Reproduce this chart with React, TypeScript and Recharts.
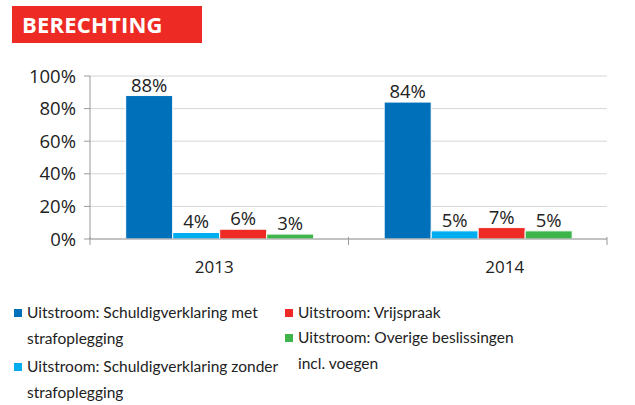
import React from 'react';
import { BarChart, Bar, XAxis, YAxis, CartesianGrid, LabelList } from 'recharts';

// --- data ---
const years = ['2013', '2014'];
const metStraf = [0.88, 0.84];
const zonderStraf = [0.04, 0.05];
const vrijspraak = [0.06, 0.07];
const overige = [0.03, 0.05];
const yTicks = [0, 0.2, 0.4, 0.6, 0.8, 1];

const SERIES = [
  { key: 'met', name: 'Uitstroom: Schuldigverklaring met strafoplegging', color: '#0070BA' },
  { key: 'zonder', name: 'Uitstroom: Schuldigverklaring zonder strafoplegging', color: '#00AEEF' },
  { key: 'vrij', name: 'Uitstroom: Vrijspraak', color: '#EE2A24' },
  { key: 'overig', name: 'Uitstroom: Overige beslissingen incl. voegen', color: '#3DB54A' },
];

const data = years.map((year, i) => ({
  year,
  met: metStraf[i],
  zonder: zonderStraf[i],
  vrij: vrijspraak[i],
  overig: overige[i],
}));

const NUM_FONT = '"Open Sans", sans-serif';
const TEXT_FONT = 'Lato, sans-serif';
const AXIS_COLOR = '#9a9a9a';
const LABEL_SHIFT = [-5, 27];

const pct = (v: number) => `${Math.round(v * 100)}%`;

// category labels plus the boundary tick marks
const CategoryTick = (props: any) => {
  const { x, y, payload, index } = props;
  const half = payload && payload.offset ? payload.offset : 129;
  return (
    <g>
      <line x1={x - half} x2={x - half} y1={y - 2} y2={y + 6} stroke={AXIS_COLOR} />
      {index === years.length - 1 && (
        <line x1={x + half} x2={x + half} y1={y - 2} y2={y + 6} stroke={AXIS_COLOR} />
      )}
      <text
        x={x + (LABEL_SHIFT[index] || 0)}
        y={y + 34}
        textAnchor="middle"
        fill="#222"
        fontSize={17}
        fontFamily={NUM_FONT}
      >
        {payload.value}
      </text>
    </g>
  );
};

const LegendItem: React.FC<{ color: string; lines: string[]; left: number; top: number }> = ({ color, lines, left, top }) => (
  <div style={{ position: 'absolute', left, top }}>
    <div style={{ position: 'absolute', left: 0, top: 9, width: 8, height: 8, background: color }} />
    <div style={{ position: 'absolute', left: 13, top: 0, whiteSpace: 'nowrap', fontFamily: TEXT_FONT, fontSize: 15.5, lineHeight: '25.5px', color: '#222' }}>
      {lines.map((l) => (
        <div key={l}>{l}</div>
      ))}
    </div>
  </div>
);

export default function App() {
  return (
    <div style={{ position: 'absolute', left: 0, top: 0, width: 635, height: 405, background: '#fff', overflow: 'hidden' }}>
      <div
        style={{
          position: 'absolute',
          left: 12,
          top: 6,
          width: 190,
          height: 37,
          background: '#EE2A24',
          color: '#fff',
          fontFamily: NUM_FONT,
          fontWeight: 700,
          fontSize: 22,
          lineHeight: '37px',
          paddingLeft: 10,
          boxSizing: 'border-box',
          letterSpacing: 0.2,
        }}
      >
        BERECHTING
      </div>

      <div style={{ position: 'absolute', left: 0, top: 0 }}>
        <BarChart
          width={635}
          height={290}
          data={data}
          margin={{ top: 76, right: 28, bottom: 0, left: 0 }}
          barCategoryGap="13.8%"
          barGap={0}
        >
          <CartesianGrid vertical={false} stroke="#d6d6d6" />
          <XAxis
            dataKey="year"
            height={51}
            tickSize={0}
            tickMargin={0}
            tickLine={false}
            axisLine={{ stroke: AXIS_COLOR }}
            tick={<CategoryTick />}
            interval={0}
          />
          <YAxis
            width={90}
            domain={[0, 1]}
            ticks={yTicks}
            tickFormatter={pct}
            tickSize={6}
            tickMargin={8}
            axisLine={{ stroke: AXIS_COLOR }}
            tickLine={{ stroke: AXIS_COLOR }}
            tick={{ fill: '#222', fontSize: 18.5, fontFamily: NUM_FONT }}
          />
          {SERIES.map((s) => (
            <Bar key={s.key} dataKey={s.key} name={s.name} fill={s.color} stroke="#fff" strokeWidth={1} isAnimationActive={false}>
              <LabelList dataKey={s.key} position="top" offset={4} formatter={pct} fill="#222" fontSize={18.5} fontFamily={NUM_FONT} />
            </Bar>
          ))}
        </BarChart>
      </div>

      <LegendItem color={SERIES[0].color} lines={['Uitstroom: Schuldigverklaring met', 'strafoplegging']} left={14} top={300} />
      <LegendItem color={SERIES[1].color} lines={['Uitstroom: Schuldigverklaring zonder', 'strafoplegging']} left={14} top={354} />
      <LegendItem color={SERIES[2].color} lines={['Uitstroom: Vrijspraak']} left={285} top={300} />
      <LegendItem color={SERIES[3].color} lines={['Uitstroom: Overige beslissingen', 'incl. voegen']} left={285} top={325} />
    </div>
  );
}
